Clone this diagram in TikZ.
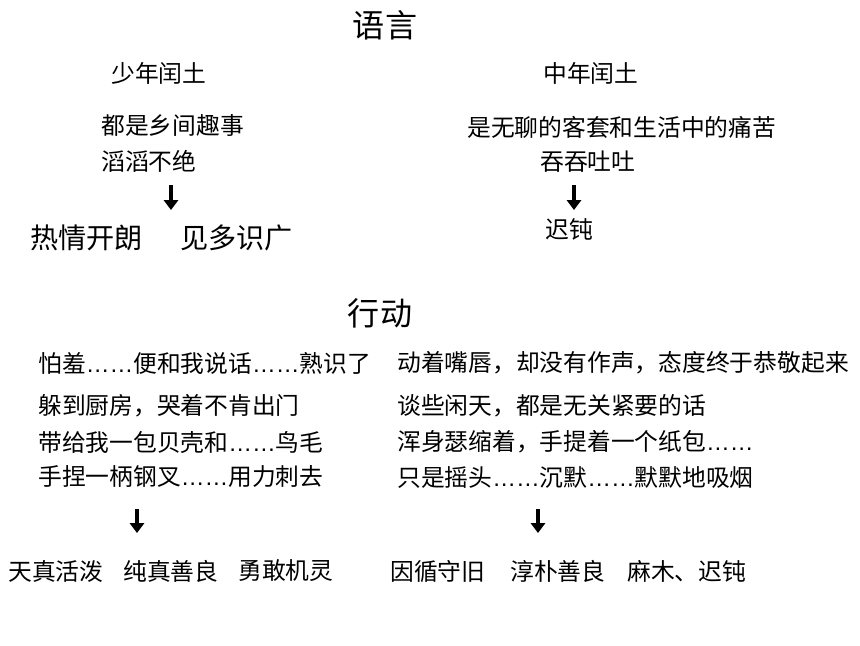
\documentclass[tikz,border=0pt]{standalone}
\usepackage{fontspec}
\usepackage{tikz}
\usetikzlibrary{positioning}
\usetikzlibrary{arrows.meta}
\newfontfamily\cjk{Noto Sans CJK SC}
\newfontfamily\dotfont{Liberation Sans}
\newcommand{\dd}{{\dotfont ……}}
\tikzstyle{arrow} = [line width=2.4pt,-{Triangle[width=10pt,length=7pt]}]
\tikzstyle{title} = [font=\cjk\fontsize{22.8}{26}\selectfont, inner sep=0pt]
\tikzstyle{line} = [font=\cjk\fontsize{16.9}{20}\selectfont, anchor=west, inner sep=0pt]
\tikzstyle{trait} = [font=\cjk\fontsize{20}{24}\selectfont, anchor=west, inner sep=0pt]
\begin{document}
\begin{tikzpicture}[x=0.025cm,y=-0.025cm]
\useasboundingbox (0,0) rectangle (860,645);

%Titles
\node [title] (speech) at (385,25) {语言};
\node [title] (action) at (380,313) {行动};

%Speech, young and middle-aged
\node [line] (young) at (111,73) {少年闰土};
\node [line] (middle) at (543,73) {中年闰土};
\node [line] (yS1) at (101,126) {都是乡间趣事};
\node [line] (yS2) at (101,161) {滔滔不绝};
\node [line] (mS1) at (467,127) {是无聊的客套和生活中的痛苦};
\node [line] (mS2) at (540,162) {吞吞吐吐};
\node [trait] (yT1) at (30,238) {热情开朗};
\node [trait] (yT2) at (180,238) {见多识广};
\node [line] (mT1) at (545,229) {迟钝};

%Actions
\node [line] (yA1) at (38,363) {怕羞\dd 便和我说话\dd 熟识了};
\node [line] (yA2) at (38,406) {躲到厨房，哭着不肯出门};
\node [line] (yA3) at (38,442) {带给我一包贝壳和\dd 鸟毛};
\node [line] (yA4) at (38,477) {手捏一柄钢叉\dd 用力刺去};
\node [line] (mA1) at (397,363) {动着嘴唇，却没有作声，态度终于恭敬起来};
\node [line] (mA2) at (397,406) {谈些闲天，都是无关紧要的话};
\node [line] (mA3) at (397,442) {浑身瑟缩着，手提着一个纸包\dd};
\node [line] (mA4) at (397,477) {只是摇头\dd 沉默\dd 默默地吸烟};
\node [line] (yR1) at (8,571) {天真活泼};
\node [line] (yR2) at (123,571) {纯真善良};
\node [line] (yR3) at (238,571) {勇敢机灵};
\node [line] (mR1) at (390,571) {因循守旧};
\node [line] (mR2) at (510,571) {淳朴善良};
\node [line] (mR3) at (627,571) {麻木、迟钝};

%Coordinates
\coordinate (ySa) at (171,185);
\coordinate (ySb) at (171,210);
\coordinate (mSa) at (574,185);
\coordinate (mSb) at (574,210);
\coordinate (yAa) at (137,509);
\coordinate (yAb) at (137,533);
\coordinate (mAa) at (538,509);
\coordinate (mAb) at (538,533);

%Lines
\draw[arrow] (ySa) -- (ySb);
\draw[arrow] (mSa) -- (mSb);
\draw[arrow] (yAa) -- (yAb);
\draw[arrow] (mAa) -- (mAb);

\end{tikzpicture}
\end{document}
